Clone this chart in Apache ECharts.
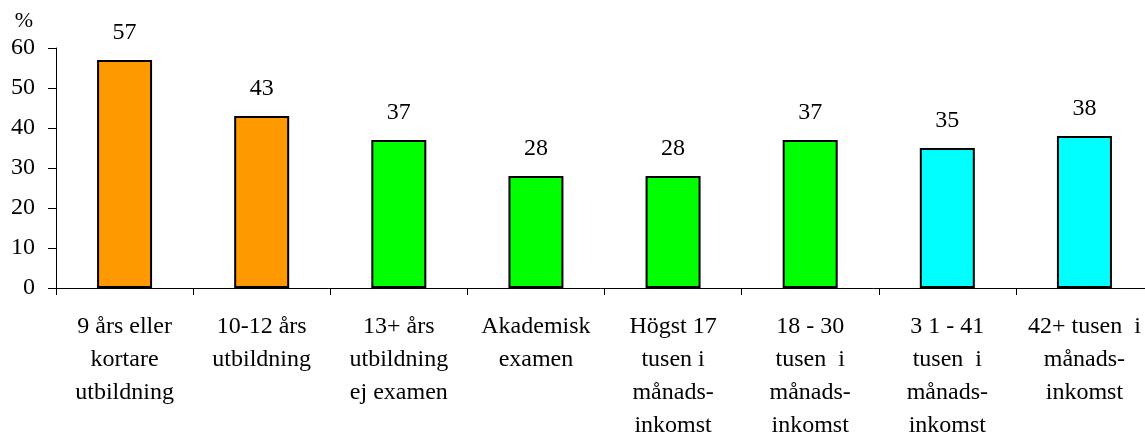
<!DOCTYPE html>
<html>
<head>
<meta charset="utf-8">
<script src="https://cdn.jsdelivr.net/npm/echarts@6/dist/echarts.min.js"></script>
<style>
  html, body { margin: 0; padding: 0; background: #fff; }
  #chart { width: 1145px; height: 437px; }
</style>
</head>
<body>
<div id="chart"></div>
<script>
const categories = [
  "9 års eller\nkortare\nutbildning",
  "10-12 års\nutbildning",
  "13+ års\nutbildning\nej examen",
  "Akademisk\nexamen",
  "Högst 17\ntusen i\nmånads-\ninkomst",
  "18 - 30\ntusen  i\nmånads-\ninkomst",
  "3 1 - 41\ntusen  i\nmånads-\ninkomst",
  "42+ tusen  i\nmånads-\ninkomst"
];
const values = [57, 43, 37, 28, 28, 37, 35, 38];
const yTicks = [0, 10, 20, 30, 40, 50, 60];

// colour per group: education (orange / green), income (green / cyan)
const barColors = ["#FF9900", "#FF9900", "#00FF00", "#00FF00", "#00FF00", "#00FF00", "#00FFFF", "#00FFFF"];

const font = "Liberation Serif, Times New Roman, serif";
const chart = echarts.init(document.getElementById("chart"));

const option = {
  animation: false,
  textStyle: { fontFamily: font, color: "#000" },
  grid: { left: 56, top: 48, width: 1097, height: 240, containLabel: false, outerBoundsMode: "none" },
  xAxis: {
    type: "category",
    data: categories,
    axisLine: { lineStyle: { color: "#000", width: 1 } },
    axisTick: { show: true, length: 7, lineStyle: { color: "#000" } },
    axisLabel: {
      interval: 0,
      margin: 22,
      fontSize: 24,
      lineHeight: 33,
      color: "#000",
      fontFamily: font,
      align: "center"
    }
  },
  yAxis: {
    type: "value",
    min: yTicks[0],
    max: yTicks[yTicks.length - 1],
    interval: 10,
    name: "%",
    nameLocation: "end",
    nameGap: 16,
    nameTextStyle: { fontSize: 22, color: "#000", fontFamily: font, align: "right", padding: [0, 23, 0, 0] },
    splitLine: { show: false },
    axisLine: { show: true, lineStyle: { color: "#000", width: 1 } },
    axisTick: { show: true, inside: false, length: 8, lineStyle: { color: "#000" } },
    axisLabel: { fontSize: 24, color: "#000", fontFamily: font, margin: 21 }
  },
  series: [
    {
      type: "bar",
      barWidth: 55,
      data: values.map((v, i) => ({
        value: v,
        itemStyle: { color: barColors[i], borderColor: "#000", borderWidth: 2 }
      })),
      label: {
        show: true,
        position: "top",
        distance: 15,
        fontSize: 24,
        color: "#000",
        fontFamily: font
      }
    }
  ]
};

chart.setOption(option);
</script>
</body>
</html>
